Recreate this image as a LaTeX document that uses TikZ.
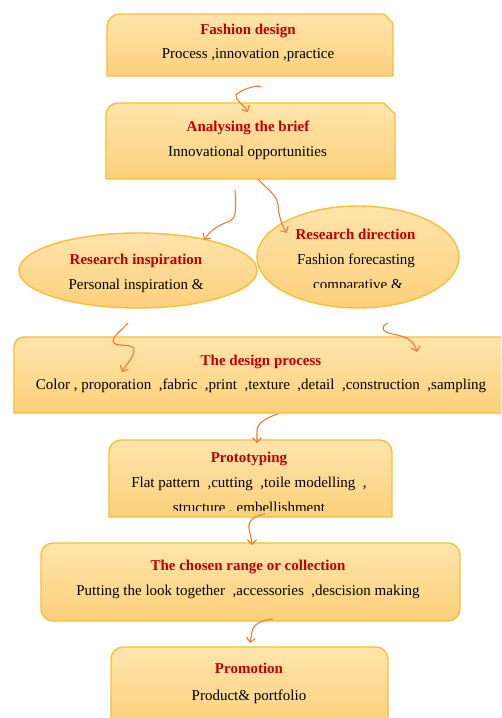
\documentclass[tikz,border=0pt]{standalone}
\usepackage{fontspec}
\setmainfont{Liberation Serif}
\usetikzlibrary{arrows.meta}
\definecolor{boxtop}{HTML}{FEE4AC}
\definecolor{boxbot}{HTML}{FCD07A}
\definecolor{boxline}{HTML}{F8BE36}
\definecolor{ttl}{HTML}{C00000}
\definecolor{arr}{HTML}{ED7D31}
\tikzset{
  shapebox/.style={draw=boxline, line width=1.4pt, top color=boxtop, bottom color=boxbot},
  ttlnode/.style={font=\fontsize{15}{17}\selectfont\bfseries, text=ttl, inner sep=0pt, anchor=base},
  subnode/.style={font=\fontsize{15}{17}\selectfont, text=black, inner sep=0pt, anchor=base},
  flow/.style={draw=arr, line width=1.1pt, -{Straight Barb[length=4.5pt,width=9pt]}},
}
\begin{document}
\begin{tikzpicture}[x=1pt,y=-1pt]
\useasboundingbox (0,0) rectangle (501,718);
\clip (0,0) rectangle (501,718);

% Fashion design
\path[shapebox] (107,76) -- (107,26) .. controls (107,19.4) and (113.6,14) .. (119,14) -- (384,14) -- (393,23) -- (393,76) -- cycle;
\node[ttlnode] (fd) at (248,34) {Fashion design};
\node[subnode] (fdsub) at (248,58.5) {Process ,innovation ,practice};

% Analysing the brief
\path[shapebox] (106,179) -- (106,115) .. controls (106,108.4) and (111.4,103) .. (118,103) -- (384,103) -- (395,114) -- (395,179) -- cycle;
\coordinate (briefbottom) at (258,179);
\node[ttlnode] (ab) at (248,131) {Analysing the brief};
\node[subnode] (absub) at (247.5,156) {Innovational opportunities};

% Research inspiration
\path[shapebox] (138,270.5) ellipse [x radius=119, y radius=37.5];
\node[ttlnode] (ri) at (136,264) {Research inspiration};
\node[subnode] (risub) at (136,289.5) {Personal inspiration \&};

% Research direction
\path[shapebox] (358,257) ellipse [x radius=101, y radius=51];
\node[ttlnode] (rd) at (355.5,239) {Research direction};
\node[subnode] (rdsub) at (356,264) {Fashion forecasting};
\begin{scope}
  \clip (290,275) rectangle (430,287.5);
  \node[subnode] (rdsub2) at (358,289.5) {comparative \&};
\end{scope}

% The design process
\path[shapebox] (14,413) -- (14,347) .. controls (14,341.5) and (18.5,337) .. (24,337) -- (520,337) -- (520,413) -- cycle;
\node[ttlnode] (dp) at (261,365) {The design process};
\node[subnode] (dpsub) at (261,389) {Color , proporation\ \ ,fabric\ \ ,print\ \ ,texture\ \ ,detail\ \ ,construction\ \ ,sampling};

% Prototyping
\path[shapebox] (109,517) -- (109,452) .. controls (109,445.4) and (114.4,440) .. (121,440) -- (380,440) .. controls (386.6,440) and (392,445.4) .. (392,452) -- (392,517) -- cycle;
\node[ttlnode] (pt) at (249,462) {Prototyping};
\node[subnode] (ptsub) at (249,487.5) {Flat pattern\ \ ,cutting\ \ ,toile modelling\ \ ,};
\begin{scope}
  \clip (150,498) rectangle (350,510);
  \node[subnode] (ptsub2) at (249,512.5) {structure , embellishment};
\end{scope}

% The chosen range or collection
\path[shapebox] (41,555) .. controls (41,548.4) and (46.4,543) .. (53,543) -- (448,543) .. controls (454.6,543) and (460,548.4) .. (460,555) -- (460,609) .. controls (460,615.6) and (454.6,621) .. (448,621) -- (53,621) .. controls (46.4,621) and (41,615.6) .. (41,609) -- cycle;
\node[ttlnode] (cr) at (248,570) {The chosen range or collection};
\node[subnode] (crsub) at (248,595) {Putting the look together\ \ ,accessories\ \ ,descision making};

% Promotion
\path[shapebox] (111,730) -- (111,659) .. controls (111,652.4) and (116.4,647) .. (123,647) -- (376,647) .. controls (382.6,647) and (388,652.4) .. (388,659) -- (388,730) -- cycle;
\node[ttlnode] (pr) at (249,673) {Promotion};
\node[subnode] (prsub) at (249,700) {Product\& portfolio};

% connectors
\coordinate (a1s) at (261,87);   \coordinate (a1e) at (248,112);
\coordinate (a2s) at (235,190);  \coordinate (a2e) at (204,240);
\coordinate (a3e) at (287,233);
\coordinate (a4s) at (128,323);  \coordinate (a4e) at (122,372);
\coordinate (a5s) at (388,323);  \coordinate (a5e) at (417,352);
\coordinate (a6s) at (278,414);  \coordinate (a6e) at (257,443);
\coordinate (a7s) at (265,514);  \coordinate (a7e) at (252,545);
\coordinate (a8s) at (273,619);  \coordinate (a8e) at (250,643);

\draw[flow] (a1s) .. controls (258,84) and (240,90) .. (236,95) .. controls (235,100) and (244,105) .. (a1e);
\draw[flow] (a2s) .. controls (236,205) and (237,218) .. (230,221) .. controls (222,224) and (212,228) .. (a2e);
\draw[flow] (briefbottom) .. controls (268,190) and (277,195) .. (278,205) .. controls (279,218) and (282,225) .. (a3e);
\draw[flow] (a4s) .. controls (122,330) and (110,338) .. (114,343) .. controls (118,347) and (134,343) .. (134,350) .. controls (134,358) and (126,364) .. (a4e);
\draw[flow] (a5s) .. controls (380,326) and (382,332) .. (392,334) .. controls (405,336) and (414,340) .. (a5e);
\draw[flow] (a6s) .. controls (268,417) and (258,422) .. (257,430) -- (a6e);
\draw[flow] (a7s) .. controls (255,516) and (248,520) .. (249,528) .. controls (250,535) and (252,540) .. (a7e);
\draw[flow] (a8s) .. controls (262,620) and (253,624) .. (252,632) -- (a8e);
\end{tikzpicture}
\end{document}
